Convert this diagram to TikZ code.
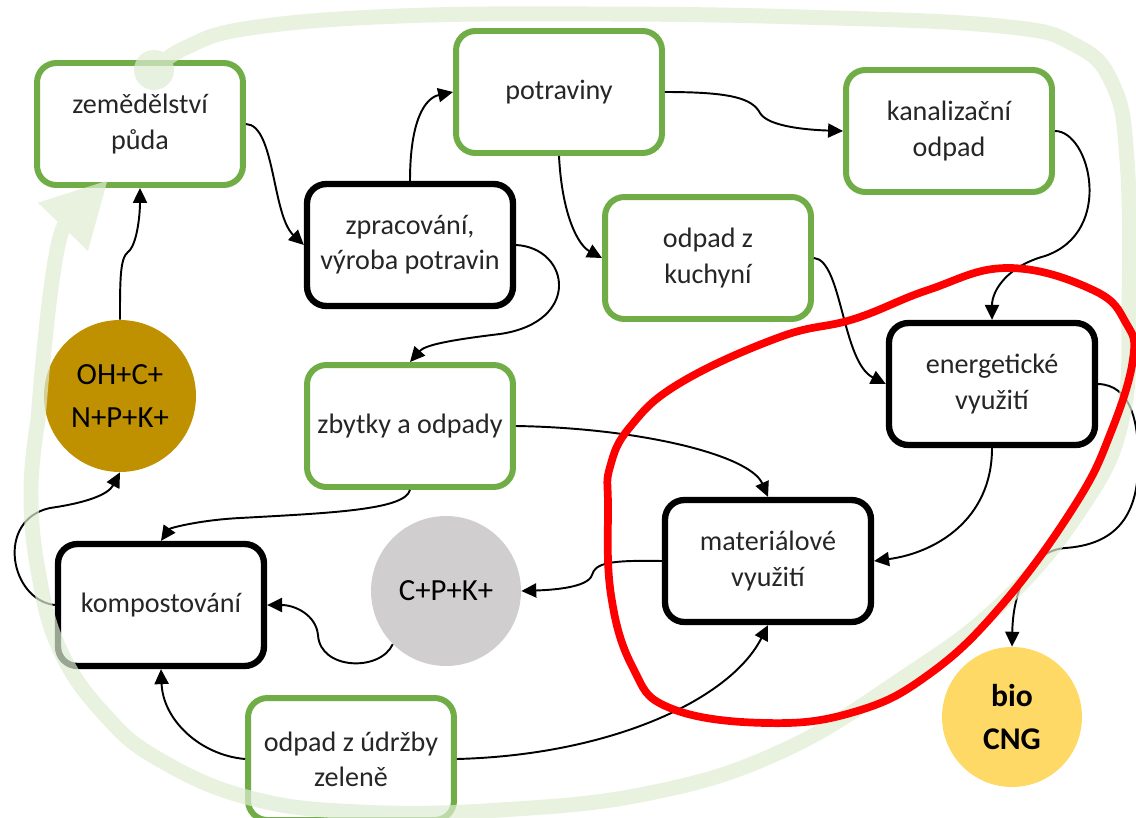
\documentclass[tikz,border=0pt]{standalone}
\usepackage{fontspec}
\setmainfont{Carlito}
\usepackage{xcolor}
\definecolor{leafgreen}{HTML}{70AD47}
\definecolor{humus}{HTML}{BF9000}
\definecolor{ash}{HTML}{D0CECE}
\definecolor{biogold}{HTML}{FFD966}
\definecolor{cyclegreen}{RGB}{222,236,210}
\usetikzlibrary{arrows.meta}

\begin{document}
\begin{tikzpicture}[>={Triangle[length=8.5pt,width=8pt]},
  x=0.02cm, y=-0.02cm,
  stage/.style={rounded corners=11pt, fill=white, minimum width=4.12cm, minimum height=2.44cm, align=center, text=black!85, font=\fontsize{16}{20}\selectfont},
  source/.style={stage, draw=leafgreen, line width=3.4pt},
  process/.style={stage, draw=black, line width=3.6pt},
  pool/.style={circle, draw=none, align=center, inner sep=0pt, font=\fontsize{17.5}{25}\selectfont},
  flow/.style={->, line width=1.1pt}]

  \useasboundingbox (0,0) rectangle (1136,818);

  % Green boxes (inputs and products)
  \node[source] (zem) at (140,124) {zemědělství\\půda};
  \node[source] (pot) at (559,92) {potraviny};
  \node[source] (kan) at (949,131) {kanalizační\\odpad};
  \node[source] (kuch) at (708,258) {odpad z\\kuchyní};
  \node[source] (zbyt) at (410,426) {zbytky a odpady};
  \node[source] (udr) at (351,759) {odpad z údržby\\zeleně};

  % Black boxes (processing)
  \node[process] (zpr) at (410,245) {zpracování,\\výroba potravin};
  \node[process] (ener) at (992,384) {energetické\\využití};
  \node[process] (mat) at (768,561) {materiálové\\využití};
  \node[process] (komp) at (161,605) {kompostování};

  % Nutrient pools
  \node[pool, fill=humus, minimum size=3.04cm] (oh) at (120,396) {OH+C+\\N+P+K+};
  \node[pool, fill=ash, minimum size=3.0cm] (cpk) at (446,591) {C+P+K+};
  \node[pool, fill=biogold, minimum size=2.8cm, font=\fontsize{18}{25}\selectfont\bfseries] (cng) at (1012,717) {bio\\CNG};

  % Flows
  \draw[flow] (zem.east) .. controls (275,125) and (272,215) .. (zpr.west);
  \draw[flow] (zpr.north) .. controls (410,120) and (425,98) .. (pot.west);
  \draw[flow] (pot.east) .. controls (730,92) and (752,98) .. (760,113) .. controls (768,127) and (810,130) .. (kan.west);
  \draw[flow] (pot.south) .. controls (562,215) and (578,245) .. (kuch.west);
  \draw[flow] (zpr.east) .. controls (570,248) and (582,322) .. (500,334) .. controls (450,340) and (425,345) .. (zbyt.north);
  \draw[flow] (kan.east) .. controls (1090,131) and (1115,232) .. (1045,256) .. controls (1008,266) and (992,290) .. (ener.north);
  \draw[flow] (kuch.east) .. controls (842,260) and (842,362) .. (ener.west);
  \draw[flow] (zbyt.east) .. controls (640,428) and (750,455) .. (mat.north);
  \draw[flow] (ener.south) .. controls (992,520) and (935,553) .. (mat.east);
  \draw[flow] (ener.east) .. controls (1130,385) and (1140,420) .. (1138,470) .. controls (1136,522) and (1110,545) .. (1065,548) .. controls (1030,551) and (1013,590) .. (cng.north);
  \draw[flow] (mat.west) .. controls (610,560) and (595,563) .. (592,575) .. controls (588,588) and (550,590) .. (cpk.east);
  \draw[flow] (cpk.225) .. controls (380,672) and (320,670) .. (318,635) .. controls (316,615) and (295,605) .. (komp.east);
  \draw[flow] (zbyt.south) .. controls (405,510) and (330,513) .. (240,518) .. controls (200,520) and (170,528) .. (komp.north);
  \draw[flow] (komp.west) .. controls (10,600) and (-5,520) .. (50,508) .. controls (85,503) and (108,495) .. (oh.south);
  \draw[flow] (oh.north) .. controls (120,280) and (120,258) .. (128,252) .. controls (137,245) and (140,215) .. (zem.south);
  \draw[flow] (udr.west) .. controls (200,755) and (163,720) .. (komp.south);
  \draw[flow] (udr.east) .. controls (610,755) and (730,700) .. (mat.south);

  % Big cycle arrow
  \begin{scope}[transparency group, opacity=0.7]
    \fill[cyclegreen] (154,70) circle (0.4cm);
    \draw[cyclegreen, line width=8.5pt, -{Triangle[length=37pt,width=37pt]}]
      plot[smooth, tension=0.7] coordinates {(154,70) (185,48) (250,28) (400,16) (600,14) (800,17) (1000,26) (1075,45) (1113,85) (1127,160) (1129,300) (1122,420) (1080,510) (1000,605) (900,680) (780,752) (650,793) (500,810) (360,812) (250,798) (160,760) (105,715) (60,650) (38,570) (31,490) (38,420)}
      .. controls (45,330) and (55,235) .. (108,180);
  \end{scope}

  % Red outline
  \draw[red, line width=4.4pt] plot[smooth cycle, tension=0.7] coordinates {(608,505) (611,595) (633,668) (670,708) (766,723) (854,712) (928,675) (1001,606) (1075,505) (1111,432) (1133,359) (1126,323) (1093,290) (1008,268) (928,290) (854,319) (780,337) (680,383) (630,427) (610,467)};

\end{tikzpicture}
\end{document}
